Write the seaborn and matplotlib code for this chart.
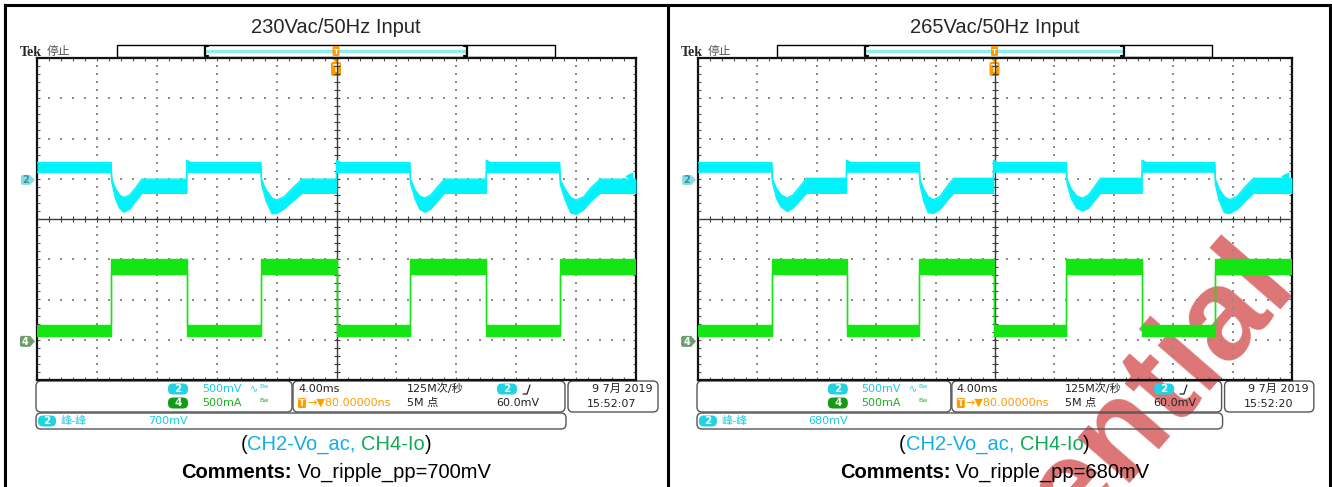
import numpy as np
import matplotlib
matplotlib.use("Agg")
import matplotlib.pyplot as plt
import seaborn as sns
from matplotlib.patches import FancyBboxPatch, Rectangle, Polygon

# ---------------- data (screen divisions, time in ms) ----------------
TITLES = ["230Vac/50Hz Input", "265Vac/50Hz Input"]
RIPPLE = ["700mV", "680mV"]
CLOCK = ["15:52:07", "15:52:20"]
DATE = "9 7月 2019"
CH_SCALE = ["500mV", "500mA"]
TIMEBASE = "4.00ms"
TRIG_POS = "→▼80.00000ns"
SAMPLE_RATE = "125M次/秒"
RECORD = "5M 点"
TRIG_LEVEL = "60.0mV"

CH2_T_230 = [0, 4.95, 5.0, 5.25, 5.5, 5.8, 6.2, 6.6, 7.0, 10.0, 10.0, 10.3,
             14.95, 15.0, 15.3, 15.7, 16.0, 16.5, 17.1, 17.7, 20.0, 20.0, 20.3,
             24.9, 24.95, 25.25, 25.55, 25.9, 26.3, 26.75, 27.2, 30.0, 30.0, 30.3,
             34.9, 34.95, 35.3, 35.65, 36.0, 36.5, 37.0, 37.6, 40.0]
CH2_UP_230 = [1.40, 1.40, 0.97, 0.75, 0.60, 0.53, 0.60, 0.78, 0.99, 0.99, 1.46, 1.40,
              1.40, 0.97, 0.72, 0.52, 0.47, 0.55, 0.78, 0.99, 0.99, 1.46, 1.40,
              1.40, 0.97, 0.72, 0.57, 0.52, 0.60, 0.80, 0.99, 0.99, 1.46, 1.40,
              1.40, 0.97, 0.72, 0.53, 0.47, 0.55, 0.78, 0.99, 0.99]
CH2_LO_230 = [1.16, 1.16, 0.90, 0.50, 0.28, 0.17, 0.25, 0.45, 0.64, 0.64, 1.16, 1.16,
              1.16, 0.85, 0.45, 0.13, 0.14, 0.25, 0.45, 0.64, 0.64, 1.16, 1.16,
              1.16, 0.88, 0.50, 0.25, 0.17, 0.25, 0.45, 0.64, 0.64, 1.16, 1.16,
              1.16, 0.85, 0.45, 0.15, 0.12, 0.23, 0.45, 0.64, 0.64]

CH2_T_265 = [0, 4.97, 5.02, 5.3, 5.6, 6.0, 6.4, 6.85, 7.3, 10.0, 10.0, 10.3,
             14.9, 14.95, 15.2, 15.5, 15.85, 16.3, 16.75, 17.2, 19.9, 19.9, 20.2,
             24.8, 24.85, 25.15, 25.5, 25.9, 26.3, 26.7, 27.1, 29.9, 29.9, 30.2,
             34.8, 34.85, 35.1, 35.45, 35.8, 36.3, 36.85, 37.4, 40.0]
CH2_UP_265 = [1.40, 1.40, 0.98, 0.75, 0.60, 0.52, 0.60, 0.80, 1.01, 1.01, 1.46, 1.40,
              1.40, 0.98, 0.74, 0.55, 0.48, 0.56, 0.80, 1.01, 1.01, 1.46, 1.40,
              1.40, 0.98, 0.74, 0.57, 0.52, 0.60, 0.80, 1.01, 1.01, 1.46, 1.40,
              1.40, 0.98, 0.74, 0.55, 0.48, 0.56, 0.80, 1.01, 1.01]
CH2_LO_265 = [1.17, 1.17, 0.90, 0.50, 0.30, 0.19, 0.27, 0.46, 0.64, 0.64, 1.17, 1.17,
              1.17, 0.85, 0.45, 0.16, 0.14, 0.24, 0.45, 0.64, 0.64, 1.17, 1.17,
              1.17, 0.88, 0.50, 0.27, 0.20, 0.27, 0.46, 0.64, 0.64, 1.17, 1.17,
              1.17, 0.85, 0.45, 0.16, 0.14, 0.24, 0.45, 0.64, 0.64]

CH4_T_230 = [0, 4.95, 4.95, 10.0, 10.0, 14.95, 14.95, 20.0, 20.0, 24.9, 24.9,
             30.0, 30.0, 34.9, 34.9, 40.0]
CH4_T_265 = [0, 4.97, 4.97, 10.0, 10.0, 14.9, 14.9, 19.9, 19.9, 24.8, 24.8,
             29.9, 29.9, 34.8, 34.8, 40.0]
CH4_UP = [-2.64, -2.64, -1.00, -1.00, -2.64, -2.64, -1.00, -1.00, -2.64, -2.64, -1.00,
          -1.00, -2.64, -2.64, -1.00, -1.00]
CH4_LO = [-2.90, -2.90, -1.36, -1.36, -2.90, -2.90, -1.36, -1.36, -2.90, -2.90, -1.36,
          -1.36, -2.90, -2.90, -1.36, -1.36]

CH2_GND = 0.97
CH4_GND = -3.04
TRIG_LVL_DIV = 1.06

# ---------------- style ----------------
sns.set_style("white")
plt.rcParams["font.family"] = ["DejaVu Sans", "Noto Sans CJK SC"]

W, H = 1332, 487
fig = plt.figure(figsize=(W / 100, H / 100), dpi=100)
bg = fig.add_axes([0, 0, 1, 1])
bg.set_xlim(0, W)
bg.set_ylim(H, 0)
bg.axis("off")

CYAN_TR = "#00f2fa"
GREEN_TR = "#14e614"
CYAN_TXT = "#1ccbe2"
GREEN_TXT = "#1fae1f"
ORANGE = "#ff9a00"
INFO = ["DejaVu Sans", "Noto Sans CJK SC"]
SANS = "Liberation Sans"

# outer frame
for xs, ys in [([5, 1330], [5, 5]), ([5, 5], [5, H]), ([668, 668], [5, H]), ([1330, 1330], [5, H])]:
    bg.plot(xs, ys, color="black", lw=2.2, solid_capstyle="projecting", zorder=6)

# watermark (behind everything, partly outside the picture as in the source)
bg.text(1297, 284, "Confidential", rotation=49, rotation_mode="anchor", ha="right",
        va="baseline", fontsize=93, fontweight="bold", family=SANS,
        color="#d04040", alpha=0.72, zorder=0.2)


def rbox(x0, y0, x1, y1, r=5, ec="#555555", fc="none", lw=1.0, z=3):
    bg.add_patch(FancyBboxPatch((x0, y0), x1 - x0, y1 - y0,
                                boxstyle=f"round,pad=0,rounding_size={r}",
                                ec=ec, fc=fc, lw=lw, zorder=z))


def badge(cx, cy, s, fc, w=20, h=11, tc="white", fs=7.5):
    rbox(cx - w / 2, cy - h / 2, cx + w / 2, cy + h / 2, r=5, ec="none", fc=fc, z=4)
    bg.text(cx, cy + 0.5, s, color=tc, fontsize=fs, fontweight="bold",
            ha="center", va="center", zorder=5, family=INFO)


def info(x, y, s, color="#222222", ha="left", fs=8):
    bg.text(x, y, s, color=color, fontsize=fs, ha=ha, va="center",
            family=INFO, zorder=5)


chains = []


def chain(cx, y, parts, size):
    texts = []
    s, c, w = parts[0]
    prev = bg.text(cx, y, s, color=c, fontweight=w, fontsize=size, family=SANS,
                   ha="left", va="baseline", zorder=5)
    texts.append(prev)
    for s, c, w in parts[1:]:
        t = bg.annotate(s, xy=(1, 0), xycoords=prev, ha="left", va="bottom",
                        color=c, fontweight=w, fontsize=size, family=SANS, zorder=5)
        texts.append(t)
        prev = t
    chains.append((cx, texts))


panels = [
    dict(gx0=37, gx1=636, t2=CH2_T_230, u2=CH2_UP_230, l2=CH2_LO_230, t4=CH4_T_230),
    dict(gx0=698, gx1=1292, t2=CH2_T_265, u2=CH2_UP_265, l2=CH2_LO_265, t4=CH4_T_265),
]
GY0, GY1 = 58, 380

for i, p in enumerate(panels):
    gx0, gx1 = p["gx0"], p["gx1"]
    sc = (gx1 - gx0) / 599.0

    def px(x):
        return gx0 + (x - 37) * sc

    def py(div):
        return GY0 + (4 - div) * (GY1 - GY0) / 8.0

    # title
    bg.text(px(336), 33, TITLES[i], fontsize=14.5, family=SANS, ha="center",
            va="baseline", zorder=5)
    # Tek stop label
    bg.text(px(20), 52, "Tek", fontsize=10, fontweight="bold", family="Liberation Serif",
            ha="left", va="center", zorder=5)
    bg.text(px(47), 51.5, "停止", fontsize=8.5, color="#555555", family="Noto Sans CJK SC",
            ha="left", va="center", zorder=5)
    bg.plot([px(46), px(117)], [57.5, 57.5], color="#888888", lw=0.8, zorder=4)
    # memory bar
    bg.add_patch(Rectangle((px(117), 45), px(555) - px(117), 12, fc="white",
                           ec="black", lw=1.0, zorder=3))
    bg.plot([px(207), px(465)], [51, 51], color="#8feef2", lw=2.5, zorder=4)
    for xb, d in [(px(205), 3), (px(467), -3)]:
        bg.plot([xb + d, xb, xb, xb + d], [46, 46, 56, 56], color="black", lw=1.6, zorder=4)
    # trigger position markers
    cxm = px(336)
    bg.add_patch(FancyBboxPatch((cxm - 3.5, 46), 7, 10, boxstyle="round,pad=0,rounding_size=1.5",
                                fc=ORANGE, ec="none", zorder=5))
    bg.text(cxm, 51.5, "T", color="white", fontsize=5, fontweight="bold", ha="center",
            va="center", zorder=6)
    bg.add_patch(Polygon([(cxm - 4, 58), (cxm + 4, 58), (cxm, 63)], closed=True,
                         fc=ORANGE, ec="none", zorder=5))
    bg.add_patch(FancyBboxPatch((cxm - 5, 62), 10, 14, boxstyle="round,pad=0,rounding_size=2",
                                fc=ORANGE, ec="none", zorder=7))
    bg.text(cxm, 69.5, "T", color="white", fontsize=7, fontweight="bold", ha="center",
            va="center", zorder=8)

    # channel ground markers
    y2 = py(CH2_GND)
    bg.add_patch(FancyBboxPatch((px(21), y2 - 5), 10, 10, boxstyle="round,pad=0,rounding_size=2",
                                fc="#86dde3", ec="none", zorder=4))
    bg.add_patch(Polygon([(px(30), y2 - 5), (px(30), y2 + 5), (px(35), y2)], closed=True,
                         fc="#86dde3", ec="none", zorder=4))
    bg.text(px(26), y2 + 0.5, "2", color="#3d8f96", fontsize=7, fontweight="bold",
            ha="center", va="center", zorder=5)
    y4 = py(CH4_GND)
    bg.add_patch(FancyBboxPatch((px(20), y4 - 5.5), 11, 11, boxstyle="round,pad=0,rounding_size=2",
                                fc="#6f9c6f", ec="none", zorder=4))
    bg.add_patch(Polygon([(px(30), y4 - 5.5), (px(30), y4 + 5.5), (px(35), y4)], closed=True,
                         fc="#6f9c6f", ec="none", zorder=4))
    bg.text(px(25.5), y4 + 0.5, "4", color="white", fontsize=7, fontweight="bold",
            ha="center", va="center", zorder=5)

    # ---------- scope grid axes ----------
    ax = fig.add_axes([gx0 / W, 1 - GY1 / H, (gx1 - gx0) / W, (GY1 - GY0) / H])
    ax.set_zorder(2)
    ax.patch.set_alpha(0)
    ax.set_xlim(0, 40)
    ax.set_ylim(-4, 4)
    for sp in ax.spines.values():
        sp.set_color("#111111")
        sp.set_linewidth(1.6)
        sp.set_visible(True)
    ax.set_xticks([])
    ax.set_yticks([])

    xs_fine = np.arange(0, 40.01, 0.8)
    ys_fine = np.arange(-4, 4.01, 0.2)
    gx, gy = [], []
    for k in range(1, 10):
        if k == 5:
            continue
        gx += [4 * k] * len(ys_fine)
        gy += list(ys_fine)
    for k in [-3, -2, -1, 1, 2, 3]:
        gx += list(xs_fine)
        gy += [k] * len(xs_fine)
    ax.scatter(gx, gy, s=1.3, marker="s", color="#8c8c8c", linewidths=0, zorder=1)
    ax.axvline(20, color="#3a3a3a", lw=1.0, zorder=1.5)
    ax.axhline(0, color="#3a3a3a", lw=1.0, zorder=1.5)
    ax.scatter(xs_fine, np.zeros_like(xs_fine), marker="|", s=14, color="#3a3a3a",
               linewidths=0.8, zorder=1.5)
    ax.scatter(np.full_like(ys_fine, 20), ys_fine, marker="_", s=14, color="#3a3a3a",
               linewidths=0.8, zorder=1.5)
    for yb in [4, -4]:
        ax.scatter(xs_fine, np.full_like(xs_fine, yb), marker="|", s=16, color="#555555",
                   linewidths=0.8, zorder=1.5)
    for xb in [0, 40]:
        ax.scatter(np.full_like(ys_fine, xb), ys_fine, marker="_", s=16, color="#555555",
                   linewidths=0.8, zorder=1.5)

    # CH2 (cyan) band
    ax.fill_between(p["t2"], p["l2"], p["u2"], color=CYAN_TR, lw=0, zorder=3)
    sns.lineplot(x=p["t2"], y=p["u2"], ax=ax, estimator=None, sort=False,
                 color=CYAN_TR, lw=1.0, zorder=3)
    sns.lineplot(x=p["t2"], y=p["l2"], ax=ax, estimator=None, sort=False,
                 color=CYAN_TR, lw=1.0, zorder=3)
    # CH4 (green) band
    ax.fill_between(p["t4"], CH4_LO, CH4_UP, color=GREEN_TR, lw=0, zorder=3)
    sns.lineplot(x=p["t4"], y=CH4_UP, ax=ax, estimator=None, sort=False,
                 color=GREEN_TR, lw=1.0, zorder=3)
    sns.lineplot(x=p["t4"], y=CH4_LO, ax=ax, estimator=None, sort=False,
                 color=GREEN_TR, lw=1.0, zorder=3)
    ax.set_xlabel("")
    ax.set_ylabel("")
    ax.set_xlim(0, 40)
    ax.set_ylim(-4, 4)
    # trigger level indicator
    ax.scatter([39.5], [TRIG_LVL_DIV], marker="<", s=22, color=CYAN_TR, zorder=4,
               clip_on=False)

    # ---------- info boxes ----------
    rbox(px(36), 381, px(292), 412)
    rbox(px(293), 381, px(565), 412)
    rbox(px(568), 381, px(658), 412)
    rbox(px(36), 413, px(566), 429)

    badge(px(178), 389, "2", "#20d2e2")
    info(px(202), 389, CH_SCALE[0], CYAN_TXT)
    info(px(250), 389, "∿", CYAN_TXT, fs=7)
    info(px(259), 387, "Bw", CYAN_TXT, fs=4.5)
    badge(px(178), 403, "4", "#159a15")
    info(px(202), 403, CH_SCALE[1], GREEN_TXT)
    info(px(259), 401, "Bw", GREEN_TXT, fs=4.5)

    info(px(298), 389, TIMEBASE)
    bg.add_patch(FancyBboxPatch((px(298), 398), 8, 10, boxstyle="round,pad=0,rounding_size=1.5",
                                fc=ORANGE, ec="none", zorder=4))
    bg.text(px(302), 403.5, "T", color="white", fontsize=6, fontweight="bold",
            ha="center", va="center", zorder=5)
    info(px(307), 403, TRIG_POS, ORANGE)
    info(px(407), 389, SAMPLE_RATE)
    info(px(407), 403, RECORD)
    badge(px(507), 389, "2", "#20d2e2")
    bg.plot([px(523), px(527), px(530)], [394, 394, 385], color="#222222", lw=0.9, zorder=5)
    info(px(496), 403, TRIG_LEVEL)

    info(px(653), 389, DATE, ha="right")
    info(px(612), 404, CLOCK[i], ha="center")

    badge(px(47), 421, "2", "#20d2e2", w=18, h=11)
    info(px(60), 421, "峰-峰", CYAN_TXT)
    info(px(148), 421, RIPPLE[i], CYAN_TXT)

    # captions
    chain(px(336), 450, [("(", "black", "normal"), ("CH2-Vo_ac, ", "#12aee8", "normal"),
                         ("CH4-Io", "#0faa55", "normal"), (")", "black", "normal")], 14.5)
    chain(px(336), 478, [("Comments:", "black", "bold"),
                         (" Vo_ripple_pp=" + RIPPLE[i], "black", "normal")], 14.5)

fig.canvas.draw()
r = fig.canvas.get_renderer()
for cx, texts in chains:
    x0 = texts[0].get_window_extent(r).x0
    x1 = texts[-1].get_window_extent(r).x1
    texts[0].set_x(cx - (x1 - x0) / 2.0)

fig.savefig("out.png", dpi=100)
